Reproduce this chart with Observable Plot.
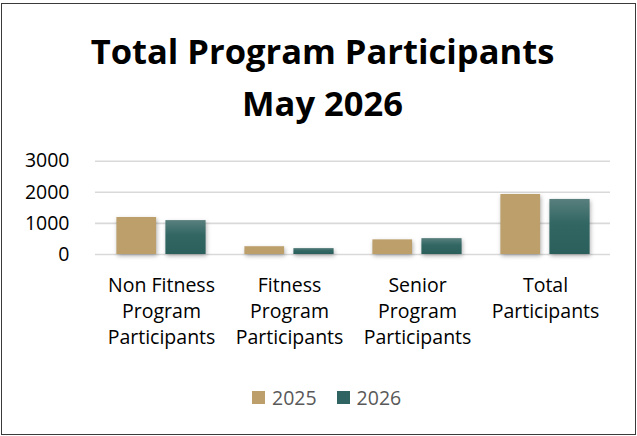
<!DOCTYPE html>
<html>
<head>
<meta charset="utf-8">
<script src="https://cdn.jsdelivr.net/npm/d3@7"></script>
<script src="https://cdn.jsdelivr.net/npm/@observablehq/plot@0.6"></script>
<style>
  html, body { margin: 0; padding: 0; background: #fff; }
  #frame { position: relative; width: 637px; height: 436px; overflow: hidden; font-family: "Open Sans", sans-serif; }
  #border { position: absolute; left: 1px; top: 3px; width: 635px; height: 432px; border: 1.5px solid #3a3a3a; box-sizing: border-box; }
  #title { position: absolute; left: 4px; width: 637px; top: 25px; text-align: center; font-weight: 700; font-size: 34.5px; line-height: 52px; color: #000; }
  #chart { position: absolute; left: 0; top: 140px; }
  #legend { position: absolute; left: 252px; top: 383px; display: flex; align-items: center; height: 28px; font-size: 19.5px; color: #595959; }
  .sw { width: 13px; height: 13px; margin-right: 7px; }
  .item { display: flex; align-items: center; margin-right: 20px; }
</style>
</head>
<body>
<div id="frame">
  <div id="border"></div>
  <div id="title">Total Program Participants<br>May 2026</div>
  <div id="chart"></div>
  <div id="legend"></div>
</div>
<script>
const categories = ["Non Fitness Program Participants", "Fitness Program Participants", "Senior Program Participants", "Total Participants"];
const tickLabels = ["Non Fitness\nProgram\nParticipants", "Fitness\nProgram\nParticipants", "Senior\nProgram\nParticipants", "Total\nParticipants"];
const years = ["2025", "2026"];
const values2025 = [1190, 250, 470, 1930];
const values2026 = [1090, 190, 510, 1770];
const yTicks = [0, 1000, 2000, 3000];
const colors = ["#bc9f6a", "url(#tealGrad)"];
const legendColors = ["#bc9f6a", "#2f6462"];

const rows2025 = categories.map((c, i) => ({category: c, year: years[0], value: values2025[i]}));
const rows2026 = categories.map((c, i) => ({category: c, year: years[1], value: values2026[i]}));

const chart = Plot.plot({
  width: 637,
  height: 230,
  marginLeft: 95,
  marginRight: 27,
  marginTop: 20.7,
  marginBottom: 116,
  style: {fontFamily: "Open Sans", fontSize: "19.5px", color: "#000", background: "transparent"},
  x: {domain: categories, padding: 0},
  y: {domain: [0, 3000]},
  marks: [
    Plot.ruleY(yTicks, {stroke: "#d9d9d9", strokeWidth: 1.6}),
    Plot.barY(rows2025, {x: "category", y: "value", fill: colors[0], insetLeft: 19.4, insetRight: 68.9}),
    Plot.barY(rows2026, {x: "category", y: "value", fill: colors[1], insetLeft: 68.4, insetRight: 19.4}),
    Plot.axisY({ticks: yTicks, tickSize: 0, tickPadding: 26, fontSize: 19.5, label: null, tickFormat: d => String(d)}),
    Plot.axisX({tickSize: 0, tickPadding: 19, fontSize: 19.5, lineHeight: 1.34, label: null, tickFormat: d => tickLabels[categories.indexOf(d)]})
  ]
});

d3.select(chart).insert("defs", ":first-child").html(
  '<linearGradient id="tealGrad" x1="0" y1="0" x2="0" y2="1">' +
  '<stop offset="0" stop-color="#587f7d"/><stop offset="0.45" stop-color="#316663"/><stop offset="1" stop-color="#2a5f5c"/>' +
  '</linearGradient>'
);
chart.querySelectorAll('g[aria-label="bar"]').forEach(g => {
  g.style.filter = "drop-shadow(1px 2px 2px rgba(0,0,0,0.3))";
});
document.getElementById("chart").appendChild(chart);

const legend = d3.select("#legend");
years.forEach((y, i) => {
  const item = legend.append("div").attr("class", "item");
  item.append("div").attr("class", "sw").style("background", legendColors[i]);
  item.append("span").text(y);
});
</script>
</body>
</html>
